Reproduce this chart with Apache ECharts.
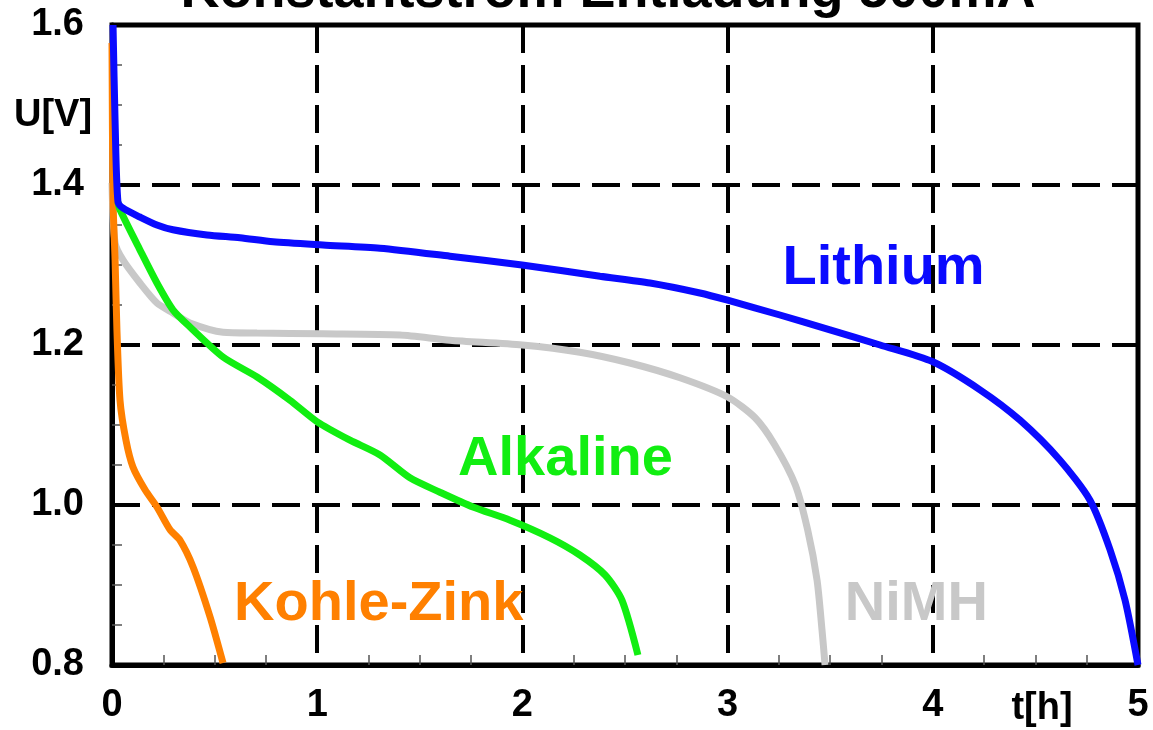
<!DOCTYPE html>
<html>
<head>
<meta charset="utf-8">
<script src="https://cdn.jsdelivr.net/npm/echarts@6/dist/echarts.min.js"></script>
<style>
html,body{margin:0;padding:0;background:#fff;}
#c{width:1153px;height:730px;}
</style>
</head>
<body>
<div id="c"></div>
<script>
const titleText = 'Konstantstrom Entladung 500mA';
const xTicks = [0, 1, 2, 3, 4, 5];
const yTicks = [0.8, 1.0, 1.2, 1.4, 1.6];
const seriesNames = ['NiMH', 'Kohle-Zink', 'Alkaline', 'Lithium'];

const lithium = [
  [0.005,1.60],[0.015,1.48],[0.029,1.379],[0.054,1.371],[0.136,1.36],[0.219,1.35],
  [0.297,1.344],[0.463,1.3375],[0.624,1.334],[0.785,1.329],[1.028,1.325],[1.306,1.321],
  [1.647,1.311],[1.998,1.30],[2.378,1.286],[2.622,1.2775],[2.865,1.265],[3.0,1.256],
  [3.255,1.2375],[3.499,1.219],[3.743,1.20],[4.0,1.179],[4.23,1.144],[4.425,1.106],
  [4.62,1.056],[4.766,1.006],[4.864,0.944],[4.937,0.881],[5.0,0.80]
];
const alkaline = [
  [0.029,1.379],[0.039,1.369],[0.136,1.319],[0.219,1.2775],[0.297,1.244],[0.38,1.2225],
  [0.541,1.185],[0.707,1.16],[0.867,1.131],[1.0,1.104],[1.16,1.081],[1.306,1.0625],
  [1.452,1.034],[1.598,1.016],[1.759,0.9975],[1.94,0.981],[2.134,0.959],[2.28,0.9375],
  [2.403,0.9125],[2.485,0.881],[2.563,0.8125]
];
const nimh = [
  [0.0,1.4025],[0.015,1.3275],[0.054,1.306],[0.136,1.2775],[0.219,1.2525],[0.297,1.24],
  [0.38,1.2275],[0.541,1.216],[0.707,1.215],[1.028,1.214],[1.404,1.2125],[1.647,1.206],
  [2.0,1.20],[2.28,1.191],[2.524,1.1775],[2.768,1.159],[3.0,1.135],[3.134,1.109],
  [3.23,1.075],[3.33,1.025],[3.39,0.969],[3.436,0.906],[3.46,0.844],[3.475,0.80]
];
const kohleZink = [
  [0.0,1.5775],[0.005,1.381],[0.015,1.306],[0.024,1.219],[0.039,1.131],[0.068,1.081],
  [0.102,1.0475],[0.161,1.019],[0.219,0.9975],[0.283,0.969],[0.331,0.956],[0.395,0.9225],
  [0.478,0.86],[0.541,0.8025]
];
// label anchor positions in data coordinates
const labelPos = {
  'Lithium': [3.76, 1.296],
  'Alkaline': [2.21, 1.057],
  'Kohle-Zink': [1.30, 0.876],
  'NiMH': [3.92, 0.876]
};
const colors = {
  'Lithium': '#0a0aff',
  'Alkaline': '#11ee11',
  'Kohle-Zink': '#ff8000',
  'NiMH': '#c8c8c8'
};
const dataBy = {'Lithium': lithium, 'Alkaline': alkaline, 'Kohle-Zink': kohleZink, 'NiMH': nimh};

const FONT = '"Liberation Sans", Arial, sans-serif';
const chart = echarts.init(document.getElementById('c'));

const option = {
  animation: false,
  backgroundColor: '#fff',
  grid: {left: 112, right: 15, top: 25, bottom: 65, show: true, borderColor: '#000', borderWidth: 5, containLabel: false},
  xAxis: {
    type: 'value', min: xTicks[0], max: xTicks[xTicks.length-1], interval: 1,
    axisLine: {show: true, onZero: false, lineStyle: {color: '#000', width: 5}},
    axisTick: {show: false, inside: true},
    minorTick: {show: true, splitNumber: 4, length: 10, lineStyle: {color: '#555', width: 1.5}},
    axisLabel: {color: '#000', fontFamily: FONT, fontWeight: 'bold', fontSize: 38, margin: 22},
    splitLine: {show: true, lineStyle: {color: '#000', width: 4, type: [28, 12]}},
    minorSplitLine: {show: false}
  },
  yAxis: {
    type: 'value', min: yTicks[0], max: yTicks[yTicks.length-1], interval: 0.2,
    axisLine: {show: true, onZero: false, lineStyle: {color: '#000', width: 5}},
    axisTick: {show: false, inside: true},
    minorTick: {show: true, splitNumber: 4, length: 10, lineStyle: {color: '#555', width: 1.5}},
    axisLabel: {color: '#000', fontFamily: FONT, fontWeight: 'bold', fontSize: 38, margin: 28,
      formatter: v => v.toFixed(1)},
    splitLine: {show: true, lineStyle: {color: '#000', width: 4, type: [28, 12]}}
  },
  series: seriesNames.map(n => ({
    name: n, type: 'line', data: dataBy[n], showSymbol: false, smooth: 0.25,
    lineStyle: {color: colors[n], width: 7}, clip: false
  }))
};
chart.setOption(option);

const gfx = [
  {type: 'text', x: 608, y: 19, style: {text: titleText, fill: '#000', font: 'bold 54px ' + FONT, align: 'center', verticalAlign: 'bottom'}},
  {type: 'text', x: 53, y: 116, style: {text: 'U[V]', fill: '#000', font: 'bold 38px ' + FONT, align: 'center', verticalAlign: 'middle'}},
  {type: 'text', x: 1042, y: 709, style: {text: 't[h]', fill: '#000', font: 'bold 38px ' + FONT, align: 'center', verticalAlign: 'middle'}}
];
seriesNames.forEach(n => {
  const p = chart.convertToPixel({gridIndex: 0}, labelPos[n]);
  gfx.push({type: 'text', x: p[0], y: p[1], z: 10,
    style: {text: n, fill: colors[n], font: 'bold 56px ' + FONT, align: 'center', verticalAlign: 'middle'}});
});
chart.setOption({graphic: gfx});
</script>
</body>
</html>
